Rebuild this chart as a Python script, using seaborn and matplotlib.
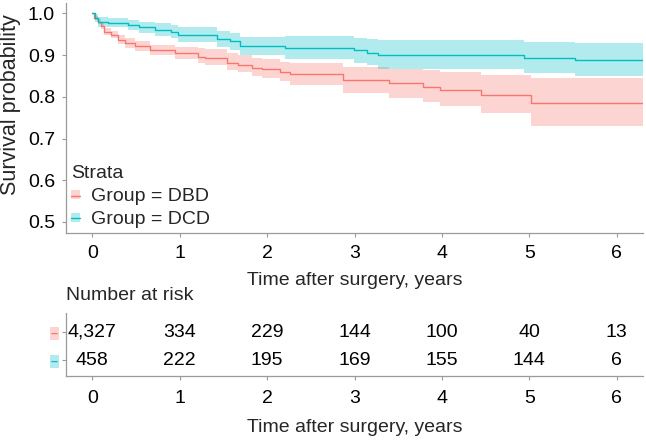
import numpy as np
import pandas as pd
import matplotlib
matplotlib.use("Agg")
import matplotlib.pyplot as plt
from matplotlib.patches import Patch
from matplotlib.lines import Line2D
import seaborn as sns

# ---------------- data ----------------
groups = ["Group = DBD", "Group = DCD"]
colors = ["#F8766D", "#00BFC4"]
t_end = 6.3

dbd_time = [0.0, 0.02, 0.07, 0.10, 0.13, 0.21, 0.30, 0.38, 0.49, 0.66, 0.95, 1.21, 1.29,
            1.54, 1.67, 1.83, 1.94, 2.15, 2.26, 2.87, 3.39, 3.78, 3.98, 4.45, 5.02]
dbd_surv = [1.0, 0.989, 0.980, 0.969, 0.956, 0.949, 0.937, 0.929, 0.921, 0.912, 0.905, 0.896, 0.892,
            0.880, 0.876, 0.869, 0.866, 0.859, 0.854, 0.840, 0.832, 0.824, 0.816, 0.805, 0.785]
dbd_low = [1.0, 0.984, 0.974, 0.962, 0.948, 0.940, 0.927, 0.918, 0.909, 0.899, 0.891, 0.882, 0.877,
           0.864, 0.859, 0.850, 0.846, 0.837, 0.829, 0.808, 0.798, 0.787, 0.777, 0.762, 0.729]
dbd_high = [1.0, 0.994, 0.986, 0.976, 0.964, 0.958, 0.947, 0.940, 0.933, 0.925, 0.919, 0.918, 0.914,
            0.904, 0.900, 0.894, 0.890, 0.884, 0.882, 0.872, 0.866, 0.864, 0.860, 0.852, 0.845]

dcd_time = [0.0, 0.03, 0.07, 0.18, 0.41, 0.53, 0.72, 0.90, 0.98, 1.43, 1.58, 1.69, 2.21,
            2.99, 3.14, 3.27, 4.94, 5.52]
dcd_surv = [1.0, 0.989, 0.980, 0.977, 0.973, 0.966, 0.961, 0.955, 0.949, 0.938, 0.933, 0.922, 0.917,
            0.911, 0.906, 0.901, 0.894, 0.887]
dcd_low = [1.0, 0.978, 0.968, 0.966, 0.960, 0.952, 0.946, 0.940, 0.932, 0.919, 0.913, 0.900, 0.890,
           0.882, 0.876, 0.866, 0.857, 0.849]
dcd_high = [1.0, 0.998, 0.992, 0.989, 0.985, 0.980, 0.976, 0.971, 0.966, 0.957, 0.953, 0.944, 0.946,
            0.942, 0.938, 0.936, 0.932, 0.928]

risk_times = [0, 1, 2, 3, 4, 5, 6]
risk_dbd = ["4,327", "334", "229", "144", "100", "40", "13"]
risk_dcd = ["458", "222", "195", "169", "155", "144", "6"]

x_ticks = [0, 1, 2, 3, 4, 5, 6]
y_ticks = [0.5, 0.6, 0.7, 0.8, 0.9, 1.0]

# ---------------- style ----------------
sns.set_theme(style="white")
plt.rcParams["font.family"] = ["Liberation Sans", "DejaVu Sans"]
FS = 14
spine_col = "#9a9a9a"

fig = plt.figure(figsize=(6.46, 4.40), dpi=100)
W, H = 646, 440
ax = fig.add_axes([66 / W, 1 - 233 / H, (643 - 66) / W, (233 - 3) / H])
ax2 = fig.add_axes([66 / W, 1 - 376 / H, (643 - 66) / W, (376 - 313) / H])

series = [
    (groups[0], dbd_time, dbd_surv, dbd_low, dbd_high, colors[0]),
    (groups[1], dcd_time, dcd_surv, dcd_low, dcd_high, colors[1]),
]
frames = []
for name, t, s, lo, hi, c in series:
    tt = list(t) + [t_end]
    ss = list(s) + [s[-1]]
    ll = list(lo) + [lo[-1]]
    hh = list(hi) + [hi[-1]]
    ax.fill_between(tt, ll, hh, step="post", color=c, alpha=0.3, linewidth=0)
    frames.append(pd.DataFrame({"time": tt, "surv": ss, "Strata": name}))
df = pd.concat(frames, ignore_index=True)
sns.lineplot(data=df, x="time", y="surv", hue="Strata", palette=colors,
             estimator=None, drawstyle="steps-post", linewidth=1.0, ax=ax, legend=False)

ax.set_xlim(-0.3, t_end)
ax.set_ylim(0.4736, 1.0247)
ax.set_xticks(x_ticks)
ax.set_yticks(y_ticks)
ax.set_yticklabels([f"{v:.1f}" for v in y_ticks])
ax.set_xlabel("Time after surgery, years", fontsize=FS, labelpad=7)
ax.set_ylabel("Survival probability", fontsize=15.5)
ax.yaxis.set_label_coords(-0.078, 0.56)

# risk table
for row, vals in [(1, risk_dbd), (0, risk_dcd)]:
    for t, v in zip(risk_times, vals):
        ax2.text(t, row, v, ha="center", va="center", fontsize=FS, color="black")
ax2.set_xlim(-0.3, t_end)
ax2.set_ylim(-0.57, 1.68)
ax2.set_xticks(x_ticks)
ax2.set_yticks([1, 0])
ax2.set_xlabel("Time after surgery, years", fontsize=FS, labelpad=9)
ax2.set_title("Number at risk", loc="left", fontsize=FS, pad=9)

for a in (ax, ax2):
    for side in ("top", "right"):
        a.spines[side].set_visible(False)
    for side in ("left", "bottom"):
        a.spines[side].set_color(spine_col)
        a.spines[side].set_linewidth(0.9)
    a.tick_params(axis="both", which="both", length=3, width=0.8, color=spine_col,
                  labelsize=FS, labelcolor="black", pad=5, left=True, bottom=True)
    a.set_facecolor("white")
    a.grid(False)
ax.tick_params(axis="x", pad=6)
ax2.tick_params(axis="x", pad=7)

ax2.set_yticklabels(["\u2013", "\u2013"], fontsize=9)
ax2.tick_params(axis="y", pad=3)
for lab, c in zip(ax2.get_yticklabels(), colors):
    lab.set_color(c)
    lab.set_fontweight("bold")
    lab.set_bbox(dict(facecolor=c, alpha=0.3, edgecolor="none", pad=0.6))

handles = [(Patch(facecolor=c, alpha=0.3, edgecolor="none"), Line2D([], [], color=c, lw=1.0))
           for c in colors]
leg = ax.legend(handles, groups, title="Strata", loc="lower left", frameon=False,
                fontsize=FS, title_fontsize=FS, handlelength=0.45, handleheight=0.35,
                handletextpad=0.6, labelspacing=0.3, borderpad=0.15, borderaxespad=0.1,
                bbox_to_anchor=(0.0, 0.0), alignment="left")

fig.savefig("out.png", dpi=100, facecolor="white")
